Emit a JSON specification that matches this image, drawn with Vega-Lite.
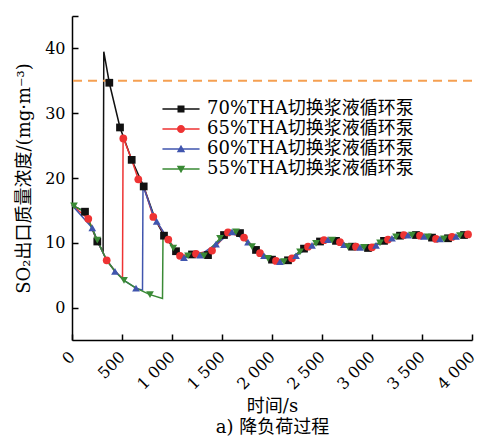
{
  "$schema": "https://vega.github.io/schema/vega-lite/v6.json",
  "width": 400,
  "height": 324,
  "autosize": {"type": "none"},
  "padding": {"left": 72, "top": 16, "right": 6, "bottom": 99},
  "background": "white",
  "config": {"view": {"stroke": null}, "font": "DejaVu Serif"},
  "datasets": {
    "lines": [
      {"s": "70%THA切换浆液循环泵", "t": 0, "v": 15.8},
      {"s": "70%THA切换浆液循环泵", "t": 130, "v": 14.8},
      {"s": "70%THA切换浆液循环泵", "t": 253, "v": 10.2},
      {"s": "70%THA切换浆液循环泵", "t": 311, "v": 8.6},
      {"s": "70%THA切换浆液循环泵", "t": 318, "v": 39.5},
      {"s": "70%THA切换浆液循环泵", "t": 373, "v": 34.7},
      {"s": "70%THA切换浆液循环泵", "t": 480, "v": 27.8},
      {"s": "70%THA切换浆液循环泵", "t": 597, "v": 22.8},
      {"s": "70%THA切换浆液循环泵", "t": 717, "v": 18.7},
      {"s": "70%THA切换浆液循环泵", "t": 830, "v": 13.7},
      {"s": "70%THA切换浆液循环泵", "t": 920, "v": 11.1},
      {"s": "70%THA切换浆液循环泵", "t": 1040, "v": 8.7},
      {"s": "70%THA切换浆液循环泵", "t": 1120, "v": 7.7},
      {"s": "70%THA切换浆液循环泵", "t": 1200, "v": 8.2},
      {"s": "70%THA切换浆液循环泵", "t": 1360, "v": 8.1},
      {"s": "70%THA切换浆液循环泵", "t": 1520, "v": 11.2},
      {"s": "70%THA切换浆液循环泵", "t": 1680, "v": 11.5},
      {"s": "70%THA切换浆液循环泵", "t": 1840, "v": 8.9},
      {"s": "70%THA切换浆液循环泵", "t": 2000, "v": 7.4},
      {"s": "70%THA切换浆液循环泵", "t": 2160, "v": 7.3},
      {"s": "70%THA切换浆液循环泵", "t": 2320, "v": 9.1},
      {"s": "70%THA切换浆液循环泵", "t": 2480, "v": 10.2},
      {"s": "70%THA切换浆液循环泵", "t": 2640, "v": 10.3},
      {"s": "70%THA切换浆液循环泵", "t": 2800, "v": 9.4},
      {"s": "70%THA切换浆液循环泵", "t": 2960, "v": 9.2},
      {"s": "70%THA切换浆液循环泵", "t": 3120, "v": 10.3},
      {"s": "70%THA切换浆液循环泵", "t": 3280, "v": 11.1},
      {"s": "70%THA切换浆液循环泵", "t": 3440, "v": 11.2},
      {"s": "70%THA切换浆液循环泵", "t": 3600, "v": 10.8},
      {"s": "70%THA切换浆液循环泵", "t": 3760, "v": 10.7},
      {"s": "70%THA切换浆液循环泵", "t": 3920, "v": 11.2},
      {"s": "70%THA切换浆液循环泵", "t": 3990, "v": 11.2},
      {"s": "65%THA切换浆液循环泵", "t": 0, "v": 15.8},
      {"s": "65%THA切换浆液循环泵", "t": 163, "v": 13.7},
      {"s": "65%THA切换浆液循环泵", "t": 253, "v": 10.3},
      {"s": "65%THA切换浆液循环泵", "t": 347, "v": 7.3},
      {"s": "65%THA切换浆液循环泵", "t": 430, "v": 5.6},
      {"s": "65%THA切换浆液循环泵", "t": 505, "v": 4.5},
      {"s": "65%THA切换浆液循环泵", "t": 511, "v": 26.3},
      {"s": "65%THA切换浆液循环泵", "t": 597, "v": 22.8},
      {"s": "65%THA切换浆液循环泵", "t": 663, "v": 19.8},
      {"s": "65%THA切换浆液循环泵", "t": 717, "v": 18.7},
      {"s": "65%THA切换浆液循环泵", "t": 813, "v": 14.0},
      {"s": "65%THA切换浆液循环泵", "t": 963, "v": 10.5},
      {"s": "65%THA切换浆液循环泵", "t": 1080, "v": 8.0},
      {"s": "65%THA切换浆液循环泵", "t": 1240, "v": 8.3},
      {"s": "65%THA切换浆液循环泵", "t": 1400, "v": 8.8},
      {"s": "65%THA切换浆液循环泵", "t": 1560, "v": 11.6},
      {"s": "65%THA切换浆液循环泵", "t": 1720, "v": 10.8},
      {"s": "65%THA切换浆液循环泵", "t": 1880, "v": 8.4},
      {"s": "65%THA切换浆液循环泵", "t": 2040, "v": 7.2},
      {"s": "65%THA切换浆液循环泵", "t": 2200, "v": 7.6},
      {"s": "65%THA切换浆液循环泵", "t": 2360, "v": 9.4},
      {"s": "65%THA切换浆液循环泵", "t": 2520, "v": 10.4},
      {"s": "65%THA切换浆液循环泵", "t": 2680, "v": 10.1},
      {"s": "65%THA切换浆液循环泵", "t": 2840, "v": 9.4},
      {"s": "65%THA切换浆液循环泵", "t": 3000, "v": 9.3},
      {"s": "65%THA切换浆液循环泵", "t": 3160, "v": 10.5},
      {"s": "65%THA切换浆液循环泵", "t": 3320, "v": 11.2},
      {"s": "65%THA切换浆液循环泵", "t": 3480, "v": 11.1},
      {"s": "65%THA切换浆液循环泵", "t": 3640, "v": 10.6},
      {"s": "65%THA切换浆液循环泵", "t": 3800, "v": 10.9},
      {"s": "65%THA切换浆液循环泵", "t": 3960, "v": 11.3},
      {"s": "65%THA切换浆液循环泵", "t": 3990, "v": 11.2},
      {"s": "60%THA切换浆液循环泵", "t": 0, "v": 15.8},
      {"s": "60%THA切换浆液循环泵", "t": 203, "v": 12.3},
      {"s": "60%THA切换浆液循环泵", "t": 253, "v": 10.3},
      {"s": "60%THA切换浆液循环泵", "t": 347, "v": 7.3},
      {"s": "60%THA切换浆液循环泵", "t": 430, "v": 5.6},
      {"s": "60%THA切换浆液循环泵", "t": 520, "v": 4.2},
      {"s": "60%THA切换浆液循环泵", "t": 640, "v": 3.0},
      {"s": "60%THA切换浆液循环泵", "t": 705, "v": 2.7},
      {"s": "60%THA切换浆液循环泵", "t": 710, "v": 18.8},
      {"s": "60%THA切换浆液循环泵", "t": 813, "v": 14.3},
      {"s": "60%THA切换浆液循环泵", "t": 847, "v": 13.3},
      {"s": "60%THA切换浆液循环泵", "t": 963, "v": 10.5},
      {"s": "60%THA切换浆液循环泵", "t": 1013, "v": 9.2},
      {"s": "60%THA切换浆液循环泵", "t": 1120, "v": 7.7},
      {"s": "60%THA切换浆液循环泵", "t": 1280, "v": 8.1},
      {"s": "60%THA切换浆液循环泵", "t": 1440, "v": 9.8},
      {"s": "60%THA切换浆液循环泵", "t": 1600, "v": 11.7},
      {"s": "60%THA切换浆液循环泵", "t": 1760, "v": 10.1},
      {"s": "60%THA切换浆液循环泵", "t": 1920, "v": 8.0},
      {"s": "60%THA切换浆液循环泵", "t": 2080, "v": 7.1},
      {"s": "60%THA切换浆液循环泵", "t": 2240, "v": 8.0},
      {"s": "60%THA切换浆液循环泵", "t": 2400, "v": 9.6},
      {"s": "60%THA切换浆液循环泵", "t": 2560, "v": 10.5},
      {"s": "60%THA切换浆液循环泵", "t": 2720, "v": 9.7},
      {"s": "60%THA切换浆液循环泵", "t": 2880, "v": 9.3},
      {"s": "60%THA切换浆液循环泵", "t": 3040, "v": 9.6},
      {"s": "60%THA切换浆液循环泵", "t": 3200, "v": 10.7},
      {"s": "60%THA切换浆液循环泵", "t": 3360, "v": 11.2},
      {"s": "60%THA切换浆液循环泵", "t": 3520, "v": 11.0},
      {"s": "60%THA切换浆液循环泵", "t": 3680, "v": 10.6},
      {"s": "60%THA切换浆液循环泵", "t": 3840, "v": 11.0},
      {"s": "60%THA切换浆液循环泵", "t": 3990, "v": 11.2},
      {"s": "55%THA切换浆液循环泵", "t": 0, "v": 15.8},
      {"s": "55%THA切换浆液循环泵", "t": 130, "v": 14.8},
      {"s": "55%THA切换浆液循环泵", "t": 253, "v": 10.4},
      {"s": "55%THA切换浆液循环泵", "t": 347, "v": 7.3},
      {"s": "55%THA切换浆液循环泵", "t": 430, "v": 5.6},
      {"s": "55%THA切换浆液循环泵", "t": 520, "v": 4.2},
      {"s": "55%THA切换浆液循环泵", "t": 640, "v": 3.0},
      {"s": "55%THA切换浆液循环泵", "t": 780, "v": 2.0},
      {"s": "55%THA切换浆液循环泵", "t": 905, "v": 1.4},
      {"s": "55%THA切换浆液循环泵", "t": 910, "v": 11.0},
      {"s": "55%THA切换浆液循环泵", "t": 963, "v": 10.5},
      {"s": "55%THA切换浆液循环泵", "t": 1013, "v": 9.2},
      {"s": "55%THA切换浆液循环泵", "t": 1100, "v": 7.8},
      {"s": "55%THA切换浆液循环泵", "t": 1160, "v": 8.0},
      {"s": "55%THA切换浆液循环泵", "t": 1320, "v": 8.0},
      {"s": "55%THA切换浆液循环泵", "t": 1480, "v": 10.7},
      {"s": "55%THA切换浆液循环泵", "t": 1640, "v": 11.7},
      {"s": "55%THA切换浆液循环泵", "t": 1800, "v": 9.4},
      {"s": "55%THA切换浆液循环泵", "t": 1960, "v": 7.6},
      {"s": "55%THA切换浆液循环泵", "t": 2120, "v": 7.1},
      {"s": "55%THA切换浆液循环泵", "t": 2280, "v": 8.6},
      {"s": "55%THA切换浆液循环泵", "t": 2440, "v": 9.9},
      {"s": "55%THA切换浆液循环泵", "t": 2600, "v": 10.4},
      {"s": "55%THA切换浆液循环泵", "t": 2760, "v": 9.4},
      {"s": "55%THA切换浆液循环泵", "t": 2920, "v": 9.3},
      {"s": "55%THA切换浆液循环泵", "t": 3080, "v": 10.0},
      {"s": "55%THA切换浆液循环泵", "t": 3240, "v": 10.9},
      {"s": "55%THA切换浆液循环泵", "t": 3400, "v": 11.2},
      {"s": "55%THA切换浆液循环泵", "t": 3560, "v": 10.9},
      {"s": "55%THA切换浆液循环泵", "t": 3720, "v": 10.6},
      {"s": "55%THA切换浆液循环泵", "t": 3880, "v": 11.1},
      {"s": "55%THA切换浆液循环泵", "t": 3990, "v": 11.2}
    ],
    "markers": [
      {"s": "70%THA切换浆液循环泵", "t": 130, "v": 14.8},
      {"s": "70%THA切换浆液循环泵", "t": 253, "v": 10.2},
      {"s": "70%THA切换浆液循环泵", "t": 373, "v": 34.7},
      {"s": "70%THA切换浆液循环泵", "t": 480, "v": 27.8},
      {"s": "70%THA切换浆液循环泵", "t": 597, "v": 22.8},
      {"s": "70%THA切换浆液循环泵", "t": 717, "v": 18.7},
      {"s": "70%THA切换浆液循环泵", "t": 920, "v": 11.1},
      {"s": "70%THA切换浆液循环泵", "t": 1040, "v": 8.7},
      {"s": "70%THA切换浆液循环泵", "t": 1200, "v": 8.2},
      {"s": "70%THA切换浆液循环泵", "t": 1360, "v": 8.1},
      {"s": "70%THA切换浆液循环泵", "t": 1520, "v": 11.2},
      {"s": "70%THA切换浆液循环泵", "t": 1680, "v": 11.5},
      {"s": "70%THA切换浆液循环泵", "t": 1840, "v": 8.9},
      {"s": "70%THA切换浆液循环泵", "t": 2000, "v": 7.4},
      {"s": "70%THA切换浆液循环泵", "t": 2160, "v": 7.3},
      {"s": "70%THA切换浆液循环泵", "t": 2320, "v": 9.1},
      {"s": "70%THA切换浆液循环泵", "t": 2480, "v": 10.2},
      {"s": "70%THA切换浆液循环泵", "t": 2640, "v": 10.3},
      {"s": "70%THA切换浆液循环泵", "t": 2800, "v": 9.4},
      {"s": "70%THA切换浆液循环泵", "t": 2960, "v": 9.2},
      {"s": "70%THA切换浆液循环泵", "t": 3120, "v": 10.3},
      {"s": "70%THA切换浆液循环泵", "t": 3280, "v": 11.1},
      {"s": "70%THA切换浆液循环泵", "t": 3440, "v": 11.2},
      {"s": "70%THA切换浆液循环泵", "t": 3600, "v": 10.8},
      {"s": "70%THA切换浆液循环泵", "t": 3760, "v": 10.7},
      {"s": "70%THA切换浆液循环泵", "t": 3920, "v": 11.2},
      {"s": "65%THA切换浆液循环泵", "t": 163, "v": 13.7},
      {"s": "65%THA切换浆液循环泵", "t": 347, "v": 7.3},
      {"s": "65%THA切换浆液循环泵", "t": 513, "v": 26.1},
      {"s": "65%THA切换浆液循环泵", "t": 663, "v": 19.8},
      {"s": "65%THA切换浆液循环泵", "t": 813, "v": 14.0},
      {"s": "65%THA切换浆液循环泵", "t": 963, "v": 10.5},
      {"s": "65%THA切换浆液循环泵", "t": 1080, "v": 8.0},
      {"s": "65%THA切换浆液循环泵", "t": 1240, "v": 8.3},
      {"s": "65%THA切换浆液循环泵", "t": 1400, "v": 8.8},
      {"s": "65%THA切换浆液循环泵", "t": 1560, "v": 11.6},
      {"s": "65%THA切换浆液循环泵", "t": 1720, "v": 10.8},
      {"s": "65%THA切换浆液循环泵", "t": 1880, "v": 8.4},
      {"s": "65%THA切换浆液循环泵", "t": 2040, "v": 7.2},
      {"s": "65%THA切换浆液循环泵", "t": 2200, "v": 7.6},
      {"s": "65%THA切换浆液循环泵", "t": 2360, "v": 9.4},
      {"s": "65%THA切换浆液循环泵", "t": 2520, "v": 10.4},
      {"s": "65%THA切换浆液循环泵", "t": 2680, "v": 10.1},
      {"s": "65%THA切换浆液循环泵", "t": 2840, "v": 9.4},
      {"s": "65%THA切换浆液循环泵", "t": 3000, "v": 9.3},
      {"s": "65%THA切换浆液循环泵", "t": 3160, "v": 10.5},
      {"s": "65%THA切换浆液循环泵", "t": 3320, "v": 11.2},
      {"s": "65%THA切换浆液循环泵", "t": 3480, "v": 11.1},
      {"s": "65%THA切换浆液循环泵", "t": 3640, "v": 10.6},
      {"s": "65%THA切换浆液循环泵", "t": 3800, "v": 10.9},
      {"s": "65%THA切换浆液循环泵", "t": 3960, "v": 11.3},
      {"s": "60%THA切换浆液循环泵", "t": 203, "v": 12.3},
      {"s": "60%THA切换浆液循环泵", "t": 430, "v": 5.6},
      {"s": "60%THA切换浆液循环泵", "t": 640, "v": 3.0},
      {"s": "60%THA切换浆液循环泵", "t": 847, "v": 13.3},
      {"s": "60%THA切换浆液循环泵", "t": 1120, "v": 7.7},
      {"s": "60%THA切换浆液循环泵", "t": 1280, "v": 8.1},
      {"s": "60%THA切换浆液循环泵", "t": 1440, "v": 9.8},
      {"s": "60%THA切换浆液循环泵", "t": 1600, "v": 11.7},
      {"s": "60%THA切换浆液循环泵", "t": 1760, "v": 10.1},
      {"s": "60%THA切换浆液循环泵", "t": 1920, "v": 8.0},
      {"s": "60%THA切换浆液循环泵", "t": 2080, "v": 7.1},
      {"s": "60%THA切换浆液循环泵", "t": 2240, "v": 8.0},
      {"s": "60%THA切换浆液循环泵", "t": 2400, "v": 9.6},
      {"s": "60%THA切换浆液循环泵", "t": 2560, "v": 10.5},
      {"s": "60%THA切换浆液循环泵", "t": 2720, "v": 9.7},
      {"s": "60%THA切换浆液循环泵", "t": 2880, "v": 9.3},
      {"s": "60%THA切换浆液循环泵", "t": 3040, "v": 9.6},
      {"s": "60%THA切换浆液循环泵", "t": 3200, "v": 10.7},
      {"s": "60%THA切换浆液循环泵", "t": 3360, "v": 11.2},
      {"s": "60%THA切换浆液循环泵", "t": 3520, "v": 11.0},
      {"s": "60%THA切换浆液循环泵", "t": 3680, "v": 10.6},
      {"s": "60%THA切换浆液循环泵", "t": 3840, "v": 11.0},
      {"s": "55%THA切换浆液循环泵", "t": 20, "v": 15.7},
      {"s": "55%THA切换浆液循环泵", "t": 253, "v": 10.4},
      {"s": "55%THA切换浆液循环泵", "t": 520, "v": 4.2},
      {"s": "55%THA切换浆液循环泵", "t": 780, "v": 2.0},
      {"s": "55%THA切换浆液循环泵", "t": 1013, "v": 9.2},
      {"s": "55%THA切换浆液循环泵", "t": 1160, "v": 8.0},
      {"s": "55%THA切换浆液循环泵", "t": 1320, "v": 8.0},
      {"s": "55%THA切换浆液循环泵", "t": 1480, "v": 10.7},
      {"s": "55%THA切换浆液循环泵", "t": 1640, "v": 11.7},
      {"s": "55%THA切换浆液循环泵", "t": 1800, "v": 9.4},
      {"s": "55%THA切换浆液循环泵", "t": 1960, "v": 7.6},
      {"s": "55%THA切换浆液循环泵", "t": 2120, "v": 7.1},
      {"s": "55%THA切换浆液循环泵", "t": 2280, "v": 8.6},
      {"s": "55%THA切换浆液循环泵", "t": 2440, "v": 9.9},
      {"s": "55%THA切换浆液循环泵", "t": 2600, "v": 10.4},
      {"s": "55%THA切换浆液循环泵", "t": 2760, "v": 9.4},
      {"s": "55%THA切换浆液循环泵", "t": 2920, "v": 9.3},
      {"s": "55%THA切换浆液循环泵", "t": 3080, "v": 10.0},
      {"s": "55%THA切换浆液循环泵", "t": 3240, "v": 10.9},
      {"s": "55%THA切换浆液循环泵", "t": 3400, "v": 11.2},
      {"s": "55%THA切换浆液循环泵", "t": 3560, "v": 10.9},
      {"s": "55%THA切换浆液循环泵", "t": 3720, "v": 10.6},
      {"s": "55%THA切换浆液循环泵", "t": 3880, "v": 11.1}
    ]
  },
  "layer": [
    {
      "data": {"name": "lines"},
      "mark": {"type": "line", "strokeWidth": 1.5},
      "encoding": {
        "x": {
          "field": "t", "type": "quantitative",
          "scale": {"domain": [0, 4000], "nice": false, "zero": false},
          "axis": {
            "values": [0, 500, 1000, 1500, 2000, 2500, 3000, 3500, 4000],
            "labelExpr": "replace(format(datum.value, ','), ',', ' ')",
            "labelAngle": -45, "labelAlign": "right", "labelBaseline": "middle",
            "labelFlush": false, "labelOverlap": false,
            "grid": false, "tickSize": -6, "labelPadding": 20, "labelOffset": 0,
            "domainColor": "black", "domainWidth": 1.5, "tickColor": "black", "tickWidth": 1.5,
            "labelFont": "DejaVu Serif", "labelFontSize": 16, "labelColor": "black",
            "title": ["时间/s", "a) 降负荷过程"],
            "titleFont": "DejaVu Serif, Noto Sans CJK SC", "titleFontSize": 18, "titleFontWeight": "normal",
            "titleColor": "black", "titleLineHeight": 21, "titlePadding": 5
          }
        },
        "y": {
          "field": "v", "type": "quantitative",
          "scale": {"domain": [-5, 45], "nice": false, "zero": false},
          "axis": {
            "values": [0, 10, 20, 30, 40, 45],
            "labelExpr": "datum.value == 45 ? '' : datum.label",
            "labelFlush": false, "labelOverlap": false,
            "grid": false, "tickSize": -6, "labelPadding": 13,
            "domainColor": "black", "domainWidth": 1.5, "tickColor": "black", "tickWidth": 1.5,
            "labelFont": "DejaVu Serif", "labelFontSize": 16, "labelColor": "black",
            "title": "SO₂出口质量浓度/(mg·m⁻³)",
            "titleFont": "DejaVu Serif, Noto Sans CJK SC", "titleFontSize": 18, "titleFontWeight": "normal",
            "titleColor": "black", "titlePadding": 11
          }
        },
        "color": {
          "field": "s", "type": "nominal", "legend": null,
          "scale": {
            "domain": ["70%THA切换浆液循环泵", "65%THA切换浆液循环泵", "60%THA切换浆液循环泵", "55%THA切换浆液循环泵"],
            "range": ["#111111", "#EE3333", "#4055AE", "#3A8A35"]
          }
        }
      }
    },
    {
      "data": {"values": [{"v": 35}]},
      "mark": {"type": "rule", "color": "#F5A052", "strokeWidth": 2, "strokeDash": [9, 6]},
      "encoding": {
        "y": {"field": "v", "type": "quantitative", "scale": {"domain": [-5, 45], "nice": false, "zero": false}}
      }
    },
    {
      "data": {"name": "markers"},
      "mark": {"type": "point", "filled": true, "size": 60, "opacity": 1},
      "encoding": {
        "x": {"field": "t", "type": "quantitative", "scale": {"domain": [0, 4000], "nice": false, "zero": false}},
        "y": {"field": "v", "type": "quantitative", "scale": {"domain": [-5, 45], "nice": false, "zero": false}},
        "color": {
          "field": "s", "type": "nominal", "legend": null,
          "scale": {
            "domain": ["70%THA切换浆液循环泵", "65%THA切换浆液循环泵", "60%THA切换浆液循环泵", "55%THA切换浆液循环泵"],
            "range": ["#111111", "#EE3333", "#4055AE", "#3A8A35"]
          }
        },
        "shape": {
          "field": "s", "type": "nominal", "legend": null,
          "scale": {
            "domain": ["70%THA切换浆液循环泵", "65%THA切换浆液循环泵", "60%THA切换浆液循环泵", "55%THA切换浆液循环泵"],
            "range": ["square", "circle", "triangle-up", "triangle-down"]
          }
        }
      }
    },
    {
      "data": {"name": "markers"},
      "mark": {"type": "point", "filled": true, "size": 49, "opacity": 0},
      "encoding": {
        "x": {"field": "t", "type": "quantitative", "scale": {"domain": [0, 4000], "nice": false, "zero": false}},
        "y": {"field": "v", "type": "quantitative", "scale": {"domain": [-5, 45], "nice": false, "zero": false}},
        "color": {
          "field": "s", "type": "nominal",
          "scale": {
            "domain": ["70%THA切换浆液循环泵", "65%THA切换浆液循环泵", "60%THA切换浆液循环泵", "55%THA切换浆液循环泵"],
            "range": ["#111111", "#EE3333", "#4055AE", "#3A8A35"]
          },
          "legend": {
            "title": null, "orient": "none", "legendX": 100, "legendY": 84, "padding": 0,
            "symbolSize": 49, "symbolOpacity": 1, "symbolStrokeWidth": 0,
            "labelFont": "DejaVu Serif, Noto Sans CJK SC", "labelFontSize": 18, "labelColor": "black",
            "labelLimit": 400, "labelOffset": 17, "rowPadding": 2
          }
        },
        "shape": {
          "field": "s", "type": "nominal",
          "scale": {
            "domain": ["70%THA切换浆液循环泵", "65%THA切换浆液循环泵", "60%THA切换浆液循环泵", "55%THA切换浆液循环泵"],
            "range": [
              "M-5.3,-0.2H5.3V0.2H-5.3ZM-1,-1H1V1H-1Z",
              "M-5.3,-0.2H5.3V0.2H-5.3ZM-1.15,0A1.15,1.15,0,1,1,1.15,0A1.15,1.15,0,1,1,-1.15,0Z",
              "M-5.3,-0.2H5.3V0.2H-5.3ZM0,-1.2L1.2,0.9H-1.2Z",
              "M-5.3,-0.2H5.3V0.2H-5.3ZM-1.2,-0.9H1.2L0,1.2Z"
            ]
          },
          "legend": {
            "title": null, "orient": "none", "legendX": 100, "legendY": 84, "padding": 0,
            "symbolSize": 49, "symbolOpacity": 1, "symbolStrokeWidth": 0,
            "labelFont": "DejaVu Serif, Noto Sans CJK SC", "labelFontSize": 18, "labelColor": "black",
            "labelLimit": 400, "labelOffset": 17, "rowPadding": 2
          }
        }
      }
    }
  ],
  "resolve": {"scale": {"color": "independent", "shape": "independent"}}
}
